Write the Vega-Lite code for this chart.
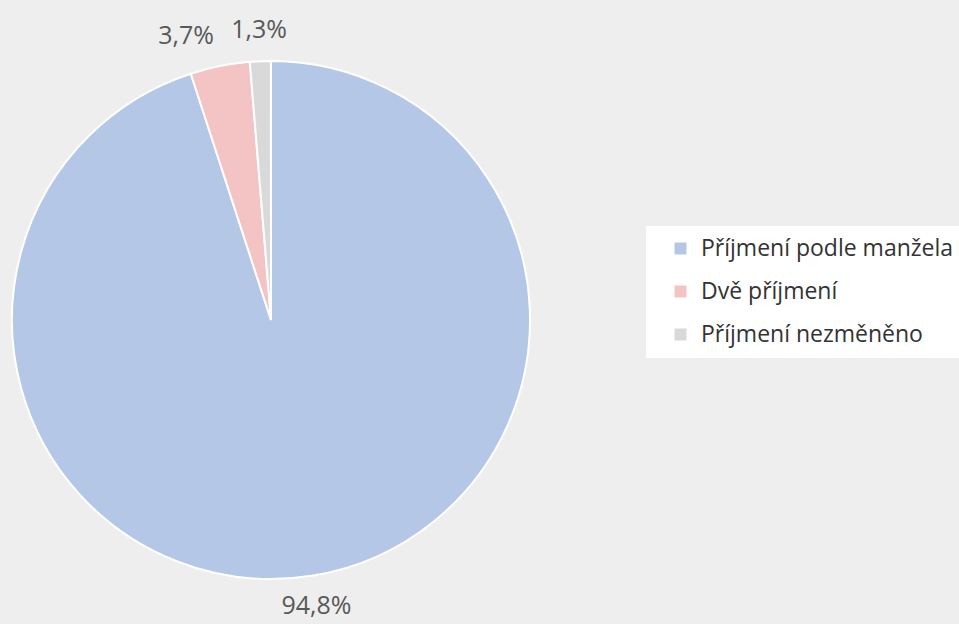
{
  "$schema": "https://vega.github.io/schema/vega-lite/v6.json",
  "autosize": {"type": "none"},
  "width": 542,
  "height": 624,
  "padding": {"left": 0, "top": 8, "right": 417, "bottom": 0},
  "background": "#eeeeee",
  "data": {
    "values": [
      {"i": 1, "kategorie": "Příjmení podle manžela", "podil": 94.8, "label": "94,8%"},
      {"i": 2, "kategorie": "Dvě příjmení", "podil": 3.7, "label": "3,7%"},
      {"i": 3, "kategorie": "Příjmení nezměněno", "podil": 1.3, "label": "1,3%"}
    ]
  },
  "encoding": {
    "theta": {"field": "podil", "type": "quantitative", "stack": true},
    "order": {"field": "i", "type": "quantitative"},
    "color": {
      "field": "kategorie",
      "type": "nominal",
      "sort": null,
      "scale": {
        "domain": ["Příjmení podle manžela", "Dvě příjmení", "Příjmení nezměněno"],
        "range": ["#b4c7e7", "#f4c4c4", "#d9d9d9"]
      },
      "legend": {
        "title": null,
        "orient": "none",
        "legendX": 646,
        "legendY": 218,
        "fillColor": "#ffffff",
        "padding": 11,
        "symbolOffset": 12,
        "symbolType": "square",
        "symbolSize": 144,
        "symbolStrokeWidth": 0,
        "labelFont": "Open Sans",
        "labelFontSize": 23,
        "labelColor": "#333333",
        "labelOffset": 9,
        "rowPadding": 19,
        "labelLimit": 400
      }
    }
  },
  "layer": [
    {
      "mark": {"type": "arc", "outerRadius": 259, "stroke": "#ffffff", "strokeWidth": 2}
    },
    {
      "mark": {
        "type": "text",
        "radius": 290,
        "font": "Open Sans",
        "fontSize": 25,
        "align": {"expr": "datum.i == 2 ? 'right' : 'center'"}
      },
      "encoding": {
        "text": {"field": "label"},
        "color": {"value": "#595959"}
      }
    }
  ],
  "config": {"view": {"stroke": null}}
}
